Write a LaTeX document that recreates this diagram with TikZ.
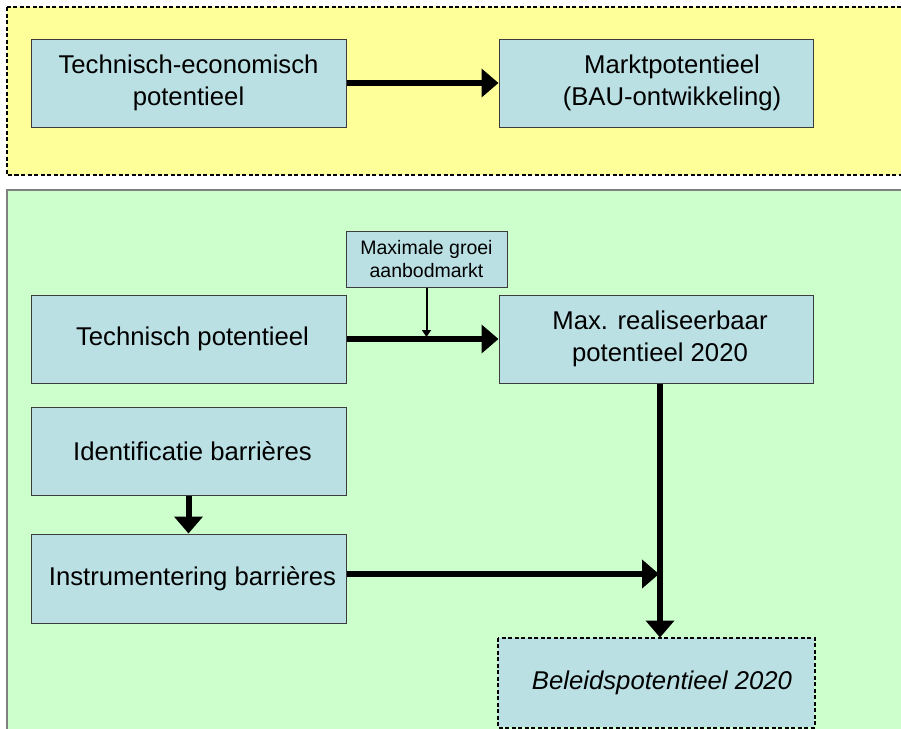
\documentclass[tikz,border=0pt]{standalone}
\usepackage{fontspec}
\setmainfont{Liberation Sans}
\usetikzlibrary{arrows.meta}
\definecolor{boxblue}{RGB}{186,224,228}
\definecolor{bggreen}{RGB}{204,255,204}
\definecolor{bgyellow}{RGB}{255,255,153}
\definecolor{boxline}{RGB}{60,60,60}
\tikzset{
  pbox/.style={draw=boxline, line width=1pt, fill=boxblue, inner sep=0pt,
    minimum width=315pt, minimum height=88pt, align=center,
    font=\fontsize{25.7}{32}\selectfont},
  smallbox/.style={draw=boxline, line width=1pt, fill=boxblue, inner sep=0pt,
    minimum width=161pt, minimum height=56pt, align=center,
    font=\fontsize{19.5}{23}\selectfont},
  dashbox/.style={draw=black, line width=2pt, dash pattern=on 4pt off 2.5pt},
  thick arrow/.style={line width=6pt, -{Triangle[length=17pt,width=28pt]}},
  thin arrow/.style={line width=2pt, -{Triangle[length=7pt,width=9pt]}},
}
\begin{document}
\begin{tikzpicture}[x=1pt,y=-1pt]
\useasboundingbox (0,0) rectangle (901,728);
\clip (0,0) rectangle (901,728);
\fill[white] (0,0) rectangle (901,728);
% panels
\fill[bgyellow] (7,7) rectangle (910,175);
\draw[dashbox] (7,7) rectangle (910,175);
\draw[fill=bggreen, draw=gray, line width=2pt] (7,190) rectangle (910,740);
% nodes
\node[pbox] (te) at (188.5,83) {Technisch-economisch\\potentieel};
\node[pbox, minimum width=314pt] (mp) at (656,83) {\hspace*{32pt}Marktpotentieel\\\hspace*{32pt}(BAU-ontwikkeling)};
\node[smallbox] (mg) at (426.5,259) {Maximale groei\\aanbodmarkt};
\node[pbox] (tp) at (188.5,339) {\hspace*{8pt}Technisch potentieel};
\node[pbox, minimum width=314pt] (mr) at (656,339) {\hspace*{8pt}Max. realiseerbaar\\\hspace*{8pt}potentieel 2020};
\node[pbox] (ib) at (188.5,451) {\hspace*{8pt}Identificatie barrières};
\node[pbox, minimum height=89pt] (inb) at (188.5,578.5) {\hspace*{8pt}Instrumentering barrières};
\node[pbox, draw=none, minimum width=316pt, minimum height=89pt] (bp) at (656,682.5) {\hspace*{12pt}\itshape Beleidspotentieel 2020};
\draw[dashbox] (bp.north west) rectangle (bp.south east);
% connectors
\draw[thick arrow] (te.east) -- (mp.west);
\draw[thick arrow] (tp.east) -- (mr.west);
\coordinate (j1) at (426.5,337);
\draw[thin arrow] (mg.south) -- (j1);
\draw[thick arrow] ([xshift=4pt]mr.south) -- ([xshift=4pt]bp.north);
\draw[thick arrow] (ib.south) -- (inb.north);
\coordinate (j2) at (659,574);
\draw[thick arrow] (inb.east |- j2) -- (j2);
\end{tikzpicture}
\end{document}
